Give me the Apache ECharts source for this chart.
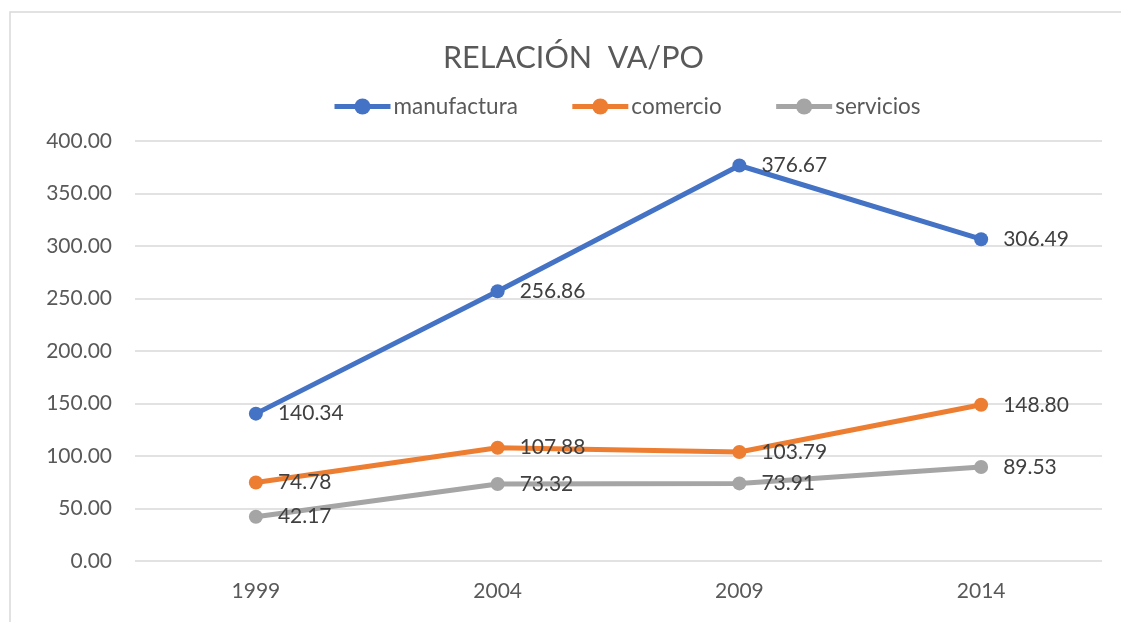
<!DOCTYPE html>
<html><head><meta charset="utf-8">
<script src="https://cdn.jsdelivr.net/npm/echarts@6/dist/echarts.min.js"></script>
<style>html,body{margin:0;padding:0;background:#fff}#c{width:1121px;height:622px}</style>
</head><body><div id="c"></div>
<script>
const categories = ['1999', '2004', '2009', '2014'];
const manufactura = [140.34, 256.86, 376.67, 306.49];
const comercio = [74.78, 107.88, 103.79, 148.80];
const servicios = [42.17, 73.32, 73.91, 89.53];
const seriesNames = ['manufactura', 'comercio', 'servicios'];
const colors = ['#4472C4', '#ED7D31', '#A5A5A5'];
const font = 'Lato, "Open Sans", sans-serif';

const chart = echarts.init(document.getElementById('c'));
const mk = (name, data, color) => ({
  name, type: 'line', data, color,
  symbol: 'circle', symbolSize: 14,
  lineStyle: { width: 5, color },
  itemStyle: { color },
  label: { show: true, position: 'right', distance: 15, color: '#404040', fontSize: 21, fontFamily: font,
    formatter: p => p.value.toFixed(2) }
});
chart.setOption({
  animation: false,
  textStyle: { fontFamily: font },
  graphic: [{ type: 'rect', shape: { x: 10, y: 12, width: 1200, height: 700 }, style: { fill: 'none', stroke: '#D9D9D9', lineWidth: 1.5 }, silent: true }],
  title: { text: 'RELACIÓN  VA/PO', left: 438, top: 38, textStyle: { fontSize: 30.5, fontWeight: 'normal', color: '#595959', fontFamily: font } },
  legend: { data: seriesNames, top: 95, left: 332, padding: 0, itemWidth: 56, itemHeight: 20, itemGap: 52,
    lineStyle: { width: 5 },
    textStyle: { fontSize: 22.5, color: '#595959', fontFamily: font, padding: [0, 0, 0, -2] } },
  grid: { left: 135, right: 19, top: 141, bottom: 61, containLabel: false },
  xAxis: { type: 'category', data: categories, boundaryGap: true,
    axisLine: { show: false }, axisTick: { show: false },
    axisLabel: { fontSize: 21, color: '#595959', fontFamily: font, margin: 20 } },
  yAxis: { type: 'value', min: 0, max: 400, interval: 50,
    axisLine: { show: false }, axisTick: { show: false },
    splitLine: { lineStyle: { color: '#D9D9D9', width: 1.5 } },
    axisLabel: { fontSize: 21, color: '#595959', fontFamily: font, margin: 23, formatter: v => v.toFixed(2) } },
  series: [mk(seriesNames[0], manufactura, colors[0]), mk(seriesNames[1], comercio, colors[1]), mk(seriesNames[2], servicios, colors[2])]
});
</script></body></html>
